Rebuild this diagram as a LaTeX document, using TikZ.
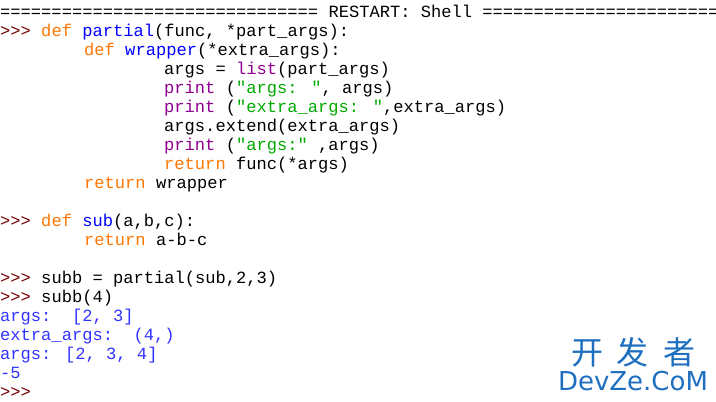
\documentclass[tikz,border=0pt]{standalone}
\usepackage{fontspec}
\newfontfamily\codefont{Liberation Mono}
\newfontfamily\cjk{Noto Sans CJK SC}
\definecolor{kw}{HTML}{FF7700}
\definecolor{fn}{HTML}{0000FF}
\definecolor{bi}{HTML}{900090}
\definecolor{st}{HTML}{00AA00}
\definecolor{out}{HTML}{3333FF}
\definecolor{prompt}{HTML}{770000}
\definecolor{mark}{HTML}{1E6FC0}
\begin{document}
\begin{tikzpicture}[x=1pt,y=1pt]
	 \tikzstyle{code}=[anchor=base west,inner sep=0pt,font=\codefont\fontsize{17.1}{19}\selectfont]
	 \tikzstyle{output line}=[code, text=out]
	 \tikzstyle{watermark}=[anchor=center,inner sep=0pt,text=mark]
	 \fill[white] (0,0) rectangle (716,-402);
	 \clip (0,0) rectangle (716,-402);
	 \node[code] (restart) at (0,-17) {===============================\ RESTART: Shell ===============================};
	 \node[code] (l1) at (0,-36) {\textcolor{prompt}{>>>} \textcolor{kw}{def} \textcolor{fn}{partial}(func, *part\_args):};
	 \node[code] (l2) at (84,-55) {\textcolor{kw}{def} \textcolor{fn}{wrapper}(*extra\_args):};
	 \node[code] (l3) at (164,-74) {args = \textcolor{bi}{list}(part\_args)};
	 \node[code] (l4) at (164,-93) {\textcolor{bi}{print} (\textcolor{st}{"args: "}, args)};
	 \node[code] (l5) at (164,-112) {\textcolor{bi}{print} (\textcolor{st}{"extra\_args: "},extra\_args)};
	 \node[code] (l6) at (164,-131) {args.extend(extra\_args)};
	 \node[code] (l7) at (164,-150) {\textcolor{bi}{print} (\textcolor{st}{"args:"} ,args)};
	 \node[code] (l8) at (164,-169) {\textcolor{kw}{return} func(*args)};
	 \node[code] (l9) at (84,-188) {\textcolor{kw}{return} wrapper};
	 \node[code] (l11) at (0,-226) {\textcolor{prompt}{>>>} \textcolor{kw}{def} \textcolor{fn}{sub}(a,b,c):};
	 \node[code] (l12) at (84,-245) {\textcolor{kw}{return} a-b-c};
	 \node[code] (l14) at (0,-283) {\textcolor{prompt}{>>>} subb = partial(sub,2,3)};
	 \node[code] (l15) at (0,-302) {\textcolor{prompt}{>>>} subb(4)};
	 \node[output line] (o1) at (0,-321) {args:\ \ [2, 3]};
	 \node[output line] (o2) at (0,-340) {extra\_args:\ \ (4,)};
	 \node[output line] (o3) at (0,-359) {args: [2, 3, 4]};
	 \node[output line] (o4) at (0,-378) {-5};
	 \node[code] (l20) at (0,-397) {\textcolor{prompt}{>>>}};
	 % watermark
	 \node[watermark, font=\cjk\fontsize{32}{32}\selectfont] (wm1) at (633,-352) {开\hspace{14pt}发\hspace{14pt}者};
	 \node[watermark, font=\fontspec{DejaVu Sans}\fontsize{26}{26}\selectfont] (wm2) at (633,-381) {DevZe.CoM};
 \end{tikzpicture}
\end{document}
